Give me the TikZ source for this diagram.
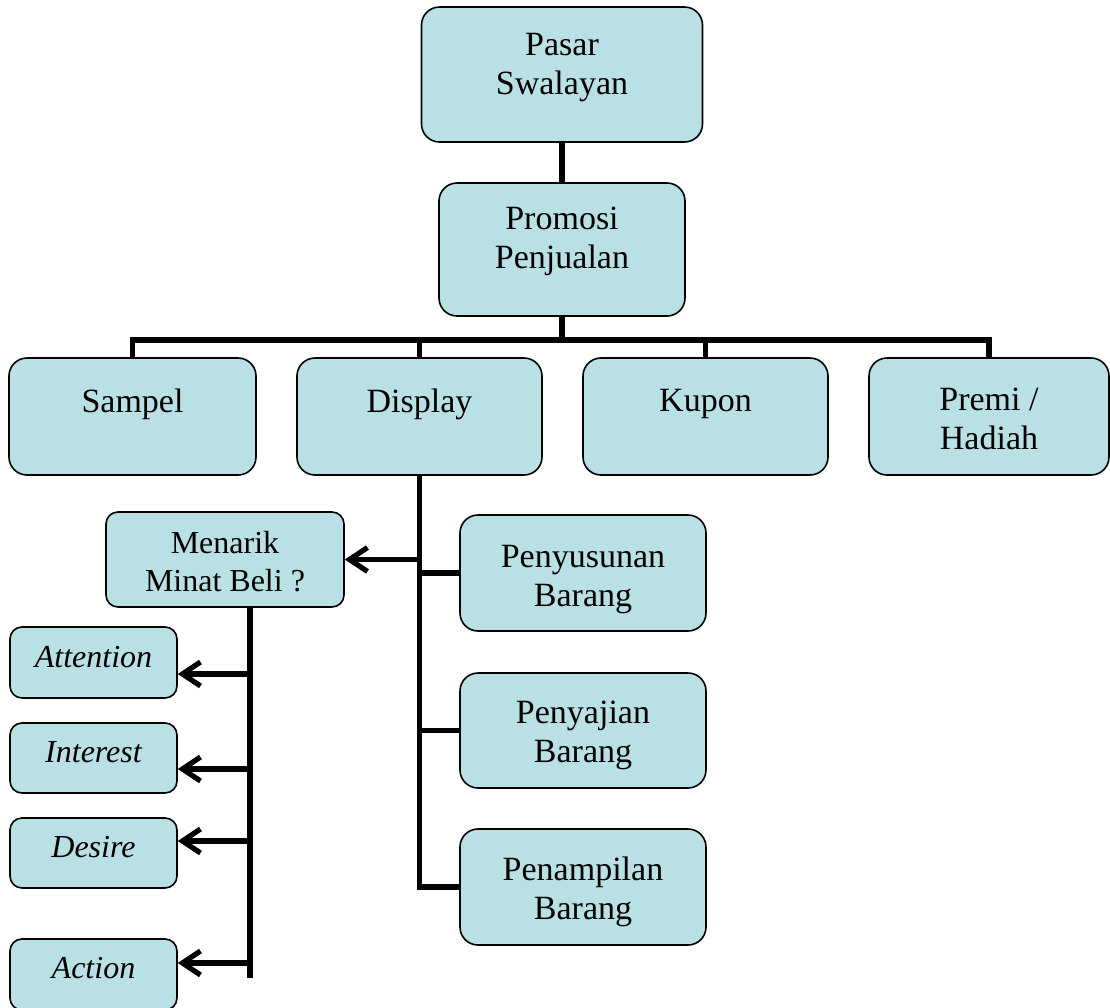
\documentclass[tikz,border=0pt]{standalone}
\usepackage{fontspec}
\setmainfont{Liberation Serif}
\usetikzlibrary{arrows.meta}
\definecolor{biru}{RGB}{185,224,228}
\newlength{\px}\setlength{\px}{0.5pt}
% lebar, tinggi, jarak garis dasar dari atas, teks
\newcommand{\isi}[4]{\parbox[c][#2\px][t]{#1\px}{\centering\rule{0pt}{#3\px}#4}}
\begin{document}
\begin{tikzpicture}[x=0.5pt,y=-0.5pt,line join=miter,
	kotak/.style={draw,fill=biru,line width=0.8pt,rounded corners=9pt,inner sep=0pt,font=\fontsize{17}{19.5}\selectfont},
	kecil/.style={kotak,rounded corners=6pt,font=\fontsize{16}{19}\selectfont},
	garis/.style={line width=2.6pt},
	panah/.style={garis,-{Straight Barb[length=9pt,width=12pt]}}]
	\useasboundingbox (0,0) rectangle (1110,1008);
	% tingkat atas
	\node[kotak] (pasar) at (562,74.5) {\isi{281}{135}{48}{Pasar\\Swalayan}};
	\node[kotak] (promosi) at (562,249.5) {\isi{246}{133}{46}{Promosi\\Penjualan}};
	% jenis promosi
	\node[kotak] (sampel) at (132.5,416.5) {\isi{247}{117}{54}{Sampel}};
	\node[kotak] (display) at (419.5,416.5) {\isi{245}{117}{54}{Display}};
	\node[kotak] (kupon) at (705.5,416.5) {\isi{245}{117}{53}{Kupon}};
	\node[kotak] (premi) at (989,416.5) {\isi{240}{117}{52}{Premi /\\Hadiah}};
	% display
	\node[kotak] (susun) at (583,573) {\isi{246}{116}{52}{Penyusunan\\Barang}};
	\node[kotak] (saji) at (583,730.5) {\isi{246}{115}{50}{Penyajian\\Barang}};
	\node[kotak] (tampil) at (583,887) {\isi{246}{116}{51}{Penampilan\\Barang}};
	\node[kecil] (minat) at (225,559.5) {\isi{238}{95}{41}{Menarik\\Minat Beli ?}};
	% AIDA
	\node[kecil] (att) at (93.5,662.5) {\isi{167}{71}{40}{\itshape Attention}};
	\node[kecil] (int) at (93.5,758) {\isi{167}{70}{39}{\itshape Interest}};
	\node[kecil] (des) at (93.5,853) {\isi{167}{70}{39}{\itshape Desire}};
	\node[kecil] (act) at (93.5,974.5) {\isi{167}{71}{39}{\itshape Action}};
	% garis penghubung
	\coordinate (bus) at (562,340);
	\coordinate (cabang) at (250,978);
	\draw[garis] (pasar.south)--(promosi.north) (promosi.south)--(bus);
	\draw[garis] (sampel.north)--(sampel.north|-bus)--(premi.north|-bus)--(premi.north);
	\draw[garis] (display.north)--(display.north|-bus) (kupon.north)--(kupon.north|-bus);
	\draw[garis] (display.south)|-(tampil.west) (display.south|-susun.west)--(susun.west)
		(display.south|-saji.west)--(saji.west);
	\draw[panah] (display.south|-minat.east)--(minat.east);
	\draw[garis] (minat.south-|cabang)--(cabang);
	\foreach \n/\y in {att/674,int/769,des/841,act/963}{
		\coordinate (k\n) at (250,\y);
		\draw[panah] (k\n)--(k\n-|\n.east);
	}
\end{tikzpicture}
\end{document}
